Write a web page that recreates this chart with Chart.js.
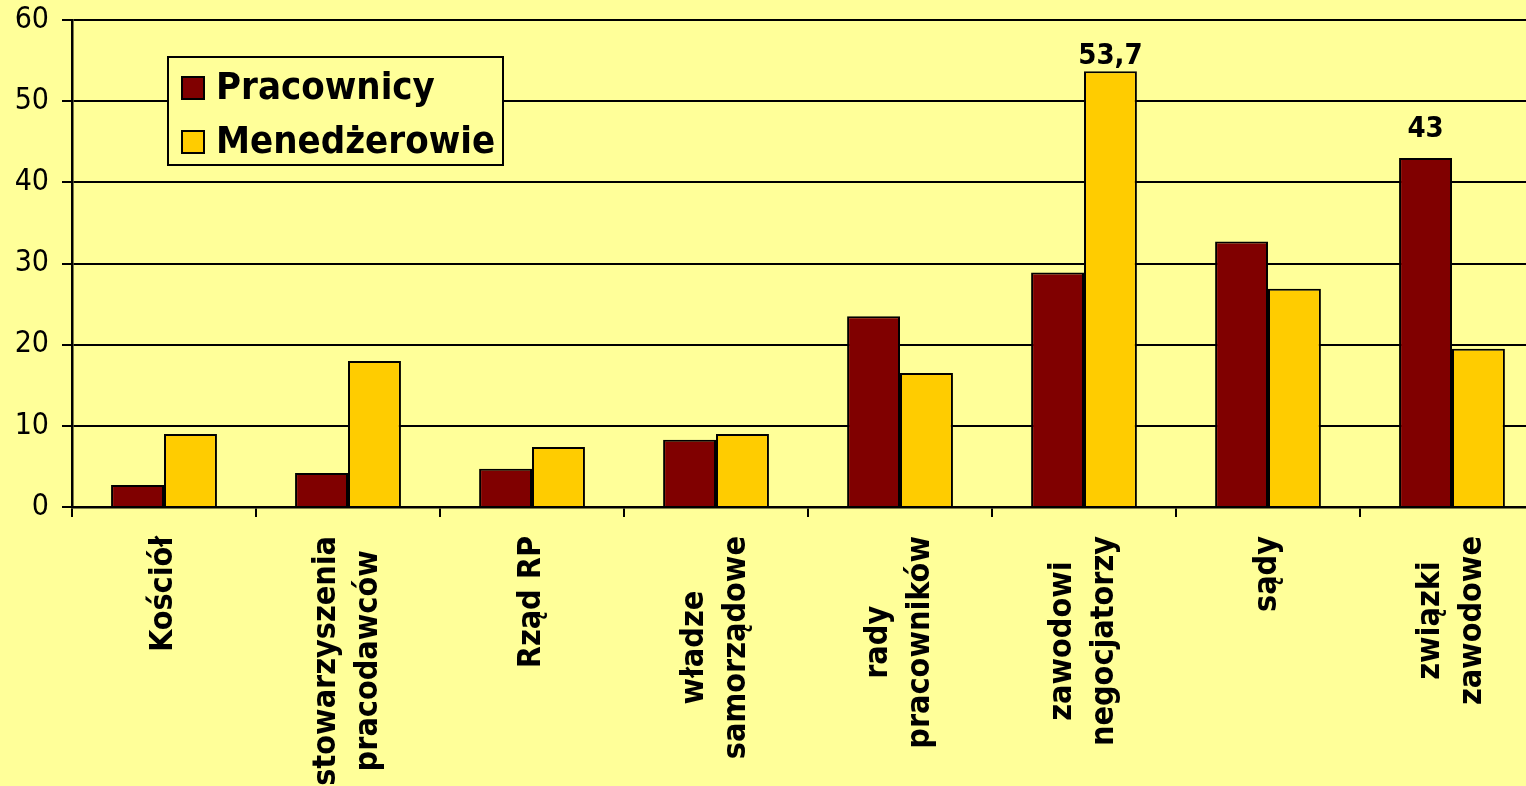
<!DOCTYPE html>
<html>
<head>
<meta charset="utf-8">
<script src="https://cdn.jsdelivr.net/npm/chart.js@4.4.0/dist/chart.umd.min.js"></script>
<style>
  html, body { margin: 0; padding: 0; background: #FFFF99; overflow: hidden; }
  #chartContainer { width: 1560px; height: 786px; }
  canvas { display: block; }
</style>
</head>
<body>
<div id="chartContainer"><canvas id="myChart" width="1560" height="786"></canvas></div>
<script>
// Chart data
const categories = [
    ['Kościół'],
    ['stowarzyszenia', 'pracodawców'],
    ['Rząd RP'],
    ['władze', 'samorządowe'],
    ['rady', 'pracowników'],
    ['zawodowi', 'negocjatorzy'],
    ['sądy'],
    ['związki', 'zawodowe']
];
const seriesNames = ['Pracownicy', 'Menedżerowie'];
const pracownicy = [2.7, 4.2, 4.7, 8.3, 23.5, 28.9, 32.7, 43];
const menedzerowie = [9, 18, 7.4, 9, 16.5, 53.7, 26.9, 19.5];
const yTicks = [0, 10, 20, 30, 40, 50, 60];
// [dataset index, category index] of the values printed above bars
const valueLabels = [[1, 5], [0, 7]];

const FONT = '"DejaVu Sans Condensed", "DejaVu Sans", sans-serif';
const BG = '#FFFF99';

// Category labels drawn rotated, lines centred on each other
const categoryLabelPlugin = {
    id: 'categoryLabels',
    afterDraw(chart) {
        const c = chart.ctx;
        const xScale = chart.scales.x;
        const lineHeight = 42;
        c.save();
        c.font = 'bold 32px ' + FONT;
        c.fillStyle = '#000';
        c.textAlign = 'center';
        c.textBaseline = 'middle';
        categories.forEach((lines, i) => {
            const x = xScale.getPixelForValue(i);
            const w = Math.max(...lines.map(l => c.measureText(l).width));
            c.save();
            c.translate(x, chart.chartArea.bottom + 29);
            c.rotate(-Math.PI / 2);
            lines.forEach((line, j) => {
                c.fillText(line, -w / 2, (j - (lines.length - 1) / 2) * lineHeight);
            });
            c.restore();
        });
        c.restore();
    }
};

// Value labels above selected bars
const valueLabelPlugin = {
    id: 'valueLabels',
    afterDatasetsDraw(chart) {
        const c = chart.ctx;
        c.save();
        c.font = 'bold 29px ' + FONT;
        c.fillStyle = '#000';
        c.textAlign = 'center';
        c.textBaseline = 'middle';
        valueLabels.forEach(([ds, idx]) => {
            const bar = chart.getDatasetMeta(ds).data[idx];
            const v = chart.data.datasets[ds].data[idx];
            const y = Math.max(bar.y - 29, chart.chartArea.top + 36);
            c.fillText(String(v).replace('.', ','), bar.x, y);
        });
        c.restore();
    }
};

// Legend box inside the plot area
const innerLegendPlugin = {
    id: 'innerLegend',
    afterDatasetsDraw(chart) {
        const c = chart.ctx;
        const area = chart.chartArea;
        const left = area.left + 96, top = area.top + 37;
        const width = 335, height = 108;
        c.save();
        c.fillStyle = BG;
        c.fillRect(left, top, width, height);
        c.lineWidth = 2;
        c.strokeStyle = '#000';
        c.strokeRect(left, top, width, height);
        c.font = 'bold 38px ' + FONT;
        c.textBaseline = 'middle';
        c.textAlign = 'left';
        chart.data.datasets.forEach((ds, i) => {
            const cy = top + 31 + i * 54;
            c.fillStyle = ds.backgroundColor;
            c.fillRect(left + 14, cy - 11, 22, 22);
            c.lineWidth = 2;
            c.strokeRect(left + 14, cy - 11, 22, 22);
            c.fillStyle = '#000';
            c.fillText(ds.label, left + 48, cy + 1);
        });
        c.restore();
    }
};

const ctx = document.getElementById('myChart').getContext('2d');
const chart = new Chart(ctx, {
    type: 'bar',
    data: {
        labels: categories.map(l => l.join(' ')),
        datasets: [
            {
                label: seriesNames[0],
                data: pracownicy,
                backgroundColor: '#800000',
                borderColor: '#000',
                borderWidth: 2
            },
            {
                label: seriesNames[1],
                data: menedzerowie,
                backgroundColor: '#FFCC00',
                borderColor: '#000',
                borderWidth: 2
            }
        ]
    },
    options: {
        responsive: false,
        animation: false,
        devicePixelRatio: 1,
        layout: { padding: { top: 20, right: 16, left: 0, bottom: 0 } },
        datasets: {
            bar: { barPercentage: 1, categoryPercentage: 0.575 }
        },
        plugins: {
            legend: { display: false },
            tooltip: { enabled: false }
        },
        scales: {
            x: {
                grid: {
                    display: true,
                    offset: true,
                    drawOnChartArea: false,
                    drawTicks: true,
                    tickLength: 10,
                    color: '#000',
                    lineWidth: 2
                },
                border: { color: '#000', width: 2.5 },
                ticks: { display: false },
                afterFit(scale) { scale.height = 279; }
            },
            y: {
                min: 0,
                max: 60,
                afterBuildTicks(scale) { scale.ticks = yTicks.map(v => ({ value: v })); },
                grid: {
                    color: '#000',
                    lineWidth: 2,
                    tickLength: 10
                },
                border: { color: '#000', width: 2.5 },
                ticks: {
                    color: '#000',
                    padding: 13,
                    font: { family: FONT, size: 30, weight: 'normal' }
                },
                afterFit(scale) {
                    scale.width = 72;
                    scale.paddingTop = 0;
                    scale.paddingBottom = 0;
                }
            }
        }
    },
    plugins: [categoryLabelPlugin, valueLabelPlugin, innerLegendPlugin]
});
</script>
</body>
</html>
